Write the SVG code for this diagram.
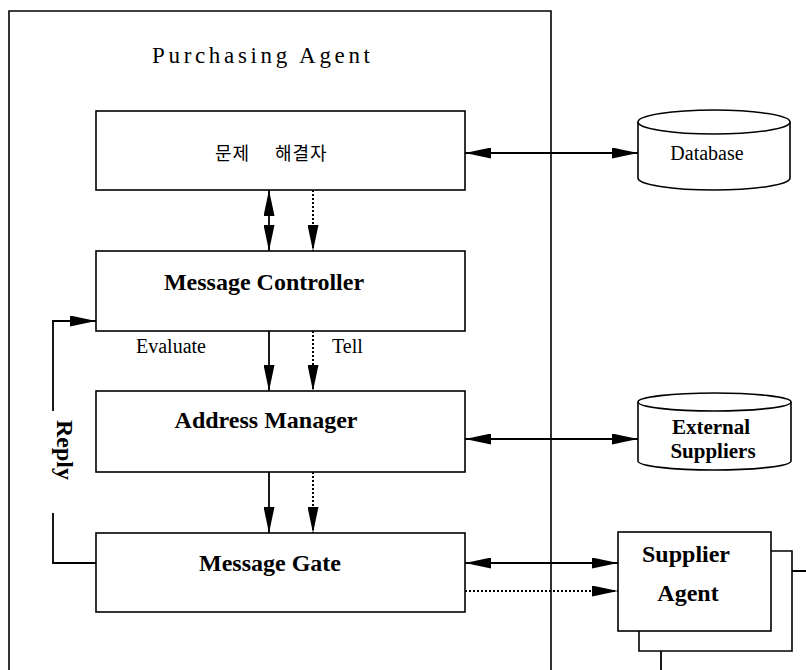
<svg xmlns="http://www.w3.org/2000/svg" width="806" height="670" viewBox="0 0 806 670">
<defs>
<marker id="ah" markerUnits="userSpaceOnUse" markerWidth="26" markerHeight="11" refX="26" refY="5.5" orient="auto-start-reverse" viewBox="0 0 26 11">
<path d="M0,0 L26,5.5 L0,11 Z" fill="#000"/>
</marker>
<style>
.box{fill:#fff;stroke:#000;stroke-width:1.6}
.ln{fill:none;stroke:#000;stroke-width:1.8}
.dot{fill:none;stroke:#000;stroke-width:2;stroke-dasharray:2,2}
.lbl{font-family:"Liberation Serif","Times New Roman",serif;font-weight:bold;font-size:24px;text-anchor:middle;fill:#000}
.sm{font-family:"Liberation Serif","Times New Roman",serif;font-size:20px;fill:#000}
</style>
</defs>
<rect width="806" height="670" fill="#fff"/>

<g id="purchasing-agent">
<path class="box" d="M9,672 L9,11 L551,11 L551,672" fill="none"/>
<text class="sm" x="152" y="63" style="font-size:23px" textLength="218" lengthAdjust="spacing">Purchasing Agent</text>
</g>

<g id="problem-solver">
<rect class="box" x="96" y="111" width="369" height="79"/>
<text x="215" y="160" font-family="'Noto Sans CJK KR','Noto Sans CJK SC',sans-serif" font-size="18" letter-spacing="1" fill="#000">문제 <tspan x="275">해결자</tspan></text>
</g>

<g id="message-controller">
<rect class="box" x="96" y="251" width="369" height="80"/>
<text class="lbl" x="264" y="290">Message Controller</text>
</g>

<g id="address-manager">
<rect class="box" x="96" y="391" width="369" height="81"/>
<text class="lbl" x="266" y="428">Address Manager</text>
</g>

<g id="message-gate">
<rect class="box" x="96" y="533" width="369" height="79"/>
<text class="lbl" x="270" y="571">Message Gate</text>
</g>

<g id="database">
<path class="box" d="M638,122 L638,178 A76,12 0 0 0 790,178 L790,122"/>
<ellipse class="box" cx="714" cy="122" rx="76" ry="12"/>
<text class="sm" x="707" y="160" style="text-anchor:middle">Database</text>
</g>

<g id="external-suppliers">
<path class="box" d="M638,402 L638,461 A76.5,9 0 0 0 791,461 L791,402"/>
<ellipse class="box" cx="714.5" cy="402" rx="76.5" ry="9"/>
<text class="lbl" x="711" y="434" style="font-size:21px">External</text>
<text class="lbl" x="713" y="458" style="font-size:21px">Suppliers</text>
</g>

<g id="supplier-agent">
<path class="ln" d="M792,571 L806,571 M661,651 L661,670" stroke-width="1.6"/>
<path class="box" d="M771,551 L792,551 L792,651 L639,651 L639,631"/>
<rect class="box" x="618" y="532" width="153" height="99"/>
<text class="lbl" x="686" y="562">Supplier</text>
<text class="lbl" x="688" y="601">Agent</text>
</g>

<g id="connectors">
<line class="ln" x1="269" y1="190" x2="269" y2="251" marker-start="url(#ah)" marker-end="url(#ah)"/>
<line class="dot" x1="313" y1="190" x2="313" y2="251" marker-end="url(#ah)"/>
<line class="ln" x1="269" y1="331" x2="269" y2="391" marker-end="url(#ah)"/>
<line class="dot" x1="313" y1="331" x2="313" y2="391" marker-end="url(#ah)"/>
<line class="ln" x1="269" y1="472" x2="269" y2="533" marker-end="url(#ah)"/>
<line class="dot" x1="313" y1="472" x2="313" y2="533" marker-end="url(#ah)"/>
<line class="ln" x1="465" y1="153" x2="638" y2="153" marker-start="url(#ah)" marker-end="url(#ah)"/>
<line class="ln" x1="465" y1="439" x2="638" y2="439" marker-start="url(#ah)" marker-end="url(#ah)"/>
<line class="ln" x1="465" y1="563" x2="618" y2="563" marker-start="url(#ah)" marker-end="url(#ah)"/>
<line class="dot" x1="465" y1="591" x2="618" y2="591" marker-end="url(#ah)"/>
<path class="ln" d="M96,563 L53,563 L53,513"/>
<path class="ln" d="M53,411 L53,321 L96,321" marker-end="url(#ah)"/>
<text class="sm" x="136" y="353">Evaluate</text>
<text class="sm" x="332" y="353">Tell</text>
<text class="lbl" transform="translate(57,450) rotate(90)">Reply</text>
</g>
</svg>
